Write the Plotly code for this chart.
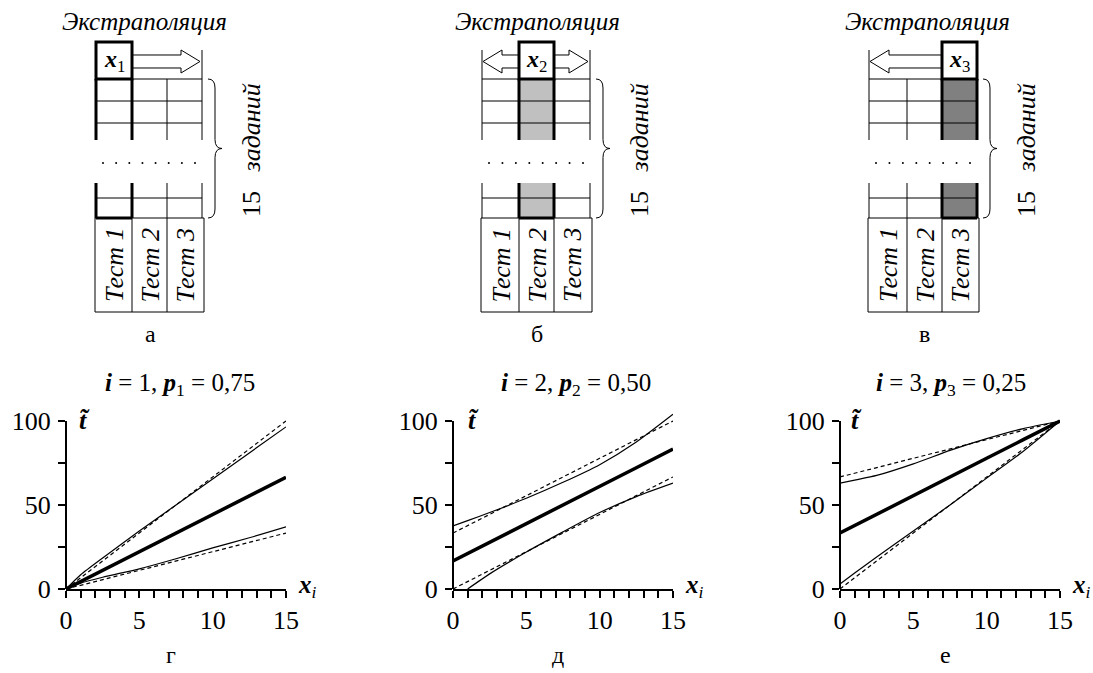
import plotly.graph_objects as go

W, H = 1093, 673
FONT = "Liberation Serif"

# ---------------- data ----------------
X_PTS = [0, 1, 2.5, 5, 7.5, 10, 12.5, 15]

# panel г : i = 1, p1 = 0.75
mid1 = [0, 4.4, 11.1, 22.2, 33.3, 44.4, 55.5, 66.5]
up_solid1 = [0, 8.5, 18.5, 34.5, 50, 65.5, 81, 96.5]
up_dash1 = [0, 6.7, 16.7, 33.3, 50, 66.7, 83.3, 100]
lo_solid1 = [0, 3.5, 7, 12, 18, 24.5, 30.5, 37]
lo_dash1 = [0, 2.2, 5.6, 11.1, 16.7, 22.2, 27.8, 33.3]

# panel д : i = 2, p2 = 0.50
mid2 = [16.7, 21.1, 27.8, 38.9, 50, 61.1, 72.2, 83.3]
up_solid2 = [37.5, 40.7, 45.5, 54, 63.5, 74, 87.5, 104]
up_dash2 = [33.3, 37.8, 44.4, 55.6, 66.7, 77.8, 88.9, 100]
lo_dash2 = [0, 4.4, 11.1, 22.2, 33.3, 44.4, 55.6, 66.7]
lo_solid2_x = [1, 2.5, 5, 7.5, 10, 12.5, 15]
lo_solid2 = [0, 9, 22, 34, 45.5, 55, 63]

# panel е : i = 3, p3 = 0.25
mid3 = [33.3, 37.8, 44.4, 55.6, 66.7, 77.8, 88.9, 100]
up_solid3 = [63, 64.8, 67.6, 74.5, 82.5, 89.5, 95.5, 100]
up_dash3 = [66.7, 68.9, 72.2, 77.8, 83.3, 88.9, 94.4, 100]
lo_solid3 = [3, 9.5, 19, 34.5, 50, 66, 82, 100]
lo_dash3 = [0, 6.7, 16.7, 33.3, 50, 66.7, 83.3, 100]

X_TICKS = list(range(16))
X_TICKTEXT = ["0", "", "", "", "", "5", "", "", "", "", "10", "", "", "", "", "15"]
Y_TICKS = [0, 25, 50, 75, 100]
Y_TICKTEXT = ["0", "", "50", "", "100"]

TITLES = [
    "<b><i>i</i></b> = 1, <b><i>p</i></b><sub>1</sub> = 0,75",
    "<b><i>i</i></b> = 2, <b><i>p</i></b><sub>2</sub> = 0,50",
    "<b><i>i</i></b> = 3, <b><i>p</i></b><sub>3</sub> = 0,25",
]
BOTTOM_LETTERS = ["г", "д", "е"]
TOP_LETTERS = ["а", "б", "в"]
TEST_LABELS = ["Тест 1", "Тест 2", "Тест 3"]
BOX_LABELS = ["<b><i>x</i></b><sub>1</sub>", "<b><i>x</i></b><sub>2</sub>", "<b><i>x</i></b><sub>3</sub>"]
EXTRAP = "Экстраполяция"
TASKS = "15\u2002 <i>заданий</i>"
T_LABEL = "<b><i>t\u0303</i></b>"
X_LABEL = "<b><i>x</i></b><sub><i>i</i></sub>"

PANELS = [
    dict(x=X_PTS, mid=mid1, us=up_solid1, ud=up_dash1, lsx=X_PTS, ls=lo_solid1, ld=lo_dash1),
    dict(x=X_PTS, mid=mid2, us=up_solid2, ud=up_dash2, lsx=lo_solid2_x, ls=lo_solid2, ld=lo_dash2),
    dict(x=X_PTS, mid=mid3, us=up_solid3, ud=up_dash3, lsx=X_PTS, ls=lo_solid3, ld=lo_dash3),
]

# ---------------- layout helpers ----------------
def px(x):
    return x / W

def py(y):
    return 1 - y / H

fig = go.Figure()
layout = dict(
    width=W, height=H, autosize=False,
    margin=dict(l=0, r=0, t=0, b=0, autoexpand=False),
    paper_bgcolor="white", plot_bgcolor="rgba(0,0,0,0)",
    showlegend=False,
    font=dict(family=FONT, color="black", size=22),
)

AX_LEFT = [66, 453, 840]
AX_W = 220
Y0_PX, Y100_PX = 589, 421
unit = (Y0_PX - Y100_PX) / 100.0
Y_TOP = 106
yb = py(Y0_PX)
yt_data = py(Y0_PX - Y_TOP * unit)
TICK_FONT = dict(family=FONT, size=26, color="black")

annotations = []
shapes = []

for k in range(3):
    n = k + 1
    xa = "xaxis" if n == 1 else f"xaxis{n}"
    ya = "yaxis" if n == 1 else f"yaxis{n}"
    xid = "x" if n == 1 else f"x{n}"
    yid = "y" if n == 1 else f"y{n}"
    layout[xa] = dict(
        domain=[px(AX_LEFT[k]), px(AX_LEFT[k] + AX_W)], range=[0, 15], anchor=yid,
        showline=True, linewidth=2, linecolor="black", ticks="outside", ticklen=7,
        tickwidth=2, tickcolor="black", tickmode="array", tickvals=X_TICKS,
        ticktext=X_TICKTEXT, showgrid=False, zeroline=False, automargin=False,
        tickfont=TICK_FONT, fixedrange=True,
    )
    layout[ya] = dict(
        domain=[yb, yt_data], range=[0, Y_TOP], anchor=xid,
        showline=False, ticks="outside", ticklen=7,
        tickwidth=2, tickcolor="black", tickmode="array", tickvals=Y_TICKS,
        ticktext=Y_TICKTEXT, showgrid=False, zeroline=False, automargin=False,
        tickfont=TICK_FONT, fixedrange=True, ticklabelstandoff=2,
    )
    shapes.append(dict(type="line", xref="x domain" if n == 1 else f"x{n} domain", yref=yid,
                       x0=0, x1=0, y0=0, y1=100, line=dict(color="black", width=2)))

    p = PANELS[k]
    common = dict(mode="lines", xaxis=xid, yaxis=yid, hoverinfo="skip")
    fig.add_trace(go.Scatter(x=p["x"], y=p["ud"], line=dict(color="black", width=1.2, dash="4px,3px"), **common))
    fig.add_trace(go.Scatter(x=p["x"], y=p["ld"], line=dict(color="black", width=1.2, dash="4px,3px"), **common))
    fig.add_trace(go.Scatter(x=p["x"], y=p["us"], line=dict(color="black", width=1.2, shape="spline", smoothing=0.6), **common))
    fig.add_trace(go.Scatter(x=p["lsx"], y=p["ls"], line=dict(color="black", width=1.2, shape="spline", smoothing=0.6), **common))
    fig.add_trace(go.Scatter(x=p["x"], y=p["mid"], line=dict(color="black", width=3.5), **common))

TITLE_X = [180, 576, 951]
T_X = [84, 473, 856]
for k in range(3):
    annotations.append(dict(x=px(TITLE_X[k]), y=py(384), xref="paper", yref="paper",
                            text=TITLES[k], showarrow=False, xanchor="center", yanchor="middle",
                            font=dict(size=25)))
    annotations.append(dict(x=px(T_X[k]), y=py(420), xref="paper", yref="paper",
                            text=T_LABEL, showarrow=False, xanchor="center", yanchor="middle",
                            font=dict(size=26)))
    annotations.append(dict(x=px(AX_LEFT[k] + AX_W + 10), y=py(586), xref="paper", yref="paper",
                            text=X_LABEL, showarrow=False,
                            xanchor="left", yanchor="middle", font=dict(size=25)))
    annotations.append(dict(x=px(AX_LEFT[k] + 105), y=py(655), xref="paper", yref="paper",
                            text=BOTTOM_LETTERS[k], showarrow=False, xanchor="center", yanchor="middle",
                            font=dict(size=24)))

# ---------------- top diagrams ----------------
DIAGRAMS = [
    dict(cols=[96, 132, 167, 202], hi=0, fill="white", left=False, right=True, extrap_x=144),
    dict(cols=[482, 519, 554, 590], hi=1, fill="#c0c0c0", left=True, right=True, extrap_x=537),
    dict(cols=[869, 907, 942, 977], hi=2, fill="#808080", left=True, right=False, extrap_x=927),
]
TOP_Y, BOX_TOP = 79, 42
SEG1 = (79, 140)
SEG2 = (183, 218)
ROWS = [79, 101, 123, 198]
TEST_BOTTOM = 312
CY = 61.5


def line(x0, y0, x1, y1, w=1, color="black"):
    shapes.append(dict(type="line", xref="paper", yref="paper", x0=px(x0), y0=py(y0),
                       x1=px(x1), y1=py(y1), line=dict(color=color, width=w)))


def rect(x0, y0, x1, y1, w=1, fill=None, color="black"):
    d = dict(type="rect", xref="paper", yref="paper", x0=px(x0), y0=py(y0),
             x1=px(x1), y1=py(y1), line=dict(color=color, width=w))
    if fill:
        d["fillcolor"] = fill
    shapes.append(d)


def path(points, closed=True, w=1, fill=None):
    s = "M " + " L ".join(f"{px(x):.5f},{py(y):.5f}" for x, y in points)
    if closed:
        s += " Z"
    d = dict(type="path", xref="paper", yref="paper", path=s, line=dict(color="black", width=w))
    if fill:
        d["fillcolor"] = fill
    shapes.append(d)


def arrow(start, tip):
    sgn = 1 if tip > start else -1
    base = tip - sgn * 19
    pts = [(start, CY - 6.5), (base, CY - 6.5), (base, CY - 11.5), (tip, CY),
           (base, CY + 11.5), (base, CY + 6.5), (start, CY + 6.5)]
    path(pts, closed=True, w=1, fill="white")


def brace(x0, top, bottom):
    mid = (top + bottom) / 2
    xm = x0 + 7
    s = (f"M {px(x0):.5f},{py(top):.5f} "
         f"Q {px(xm):.5f},{py(top):.5f} {px(xm):.5f},{py(top + 9):.5f} "
         f"L {px(xm):.5f},{py(mid - 9):.5f} "
         f"Q {px(xm):.5f},{py(mid):.5f} {px(x0 + 14):.5f},{py(mid):.5f} "
         f"Q {px(xm):.5f},{py(mid):.5f} {px(xm):.5f},{py(mid + 9):.5f} "
         f"L {px(xm):.5f},{py(bottom - 9):.5f} "
         f"Q {px(xm):.5f},{py(bottom):.5f} {px(x0):.5f},{py(bottom):.5f}")
    shapes.append(dict(type="path", xref="paper", yref="paper", path=s,
                       line=dict(color="black", width=1)))


for k, d in enumerate(DIAGRAMS):
    c = d["cols"]
    hi = d["hi"]
    for s0, s1 in (SEG1, SEG2):
        if d["fill"] != "white":
            rect(c[hi], s0, c[hi + 1], s1, w=0, fill=d["fill"], color="rgba(0,0,0,0)")
    for r in ROWS:
        line(c[0], r, c[3], r, w=1.2)
    for j in range(4):
        w = 3 if j in (hi, hi + 1) else 1
        for s0, s1 in (SEG1, SEG2):
            line(c[j], s0, c[j], s1, w=w)
    if d["right"]:
        line(c[3], 50, c[3], TOP_Y, w=1)
    if d["left"]:
        line(c[0], 50, c[0], TOP_Y, w=1)
    if d["right"]:
        arrow(c[hi + 1], c[3] - 2)
    if d["left"]:
        arrow(c[hi], c[0] + 1)
    rect(c[hi], BOX_TOP, c[hi + 1], TOP_Y, w=3, fill="white")
    annotations.append(dict(x=px((c[hi] + c[hi + 1]) / 2), y=py(61), xref="paper", yref="paper",
                            text=BOX_LABELS[k], showarrow=False, xanchor="center", yanchor="middle",
                            font=dict(size=24)))
    rect(c[0] - 1, SEG2[1], c[3] + 2, TEST_BOTTOM, w=1)
    line(c[1], SEG2[1], c[1], TEST_BOTTOM, w=1)
    line(c[2], SEG2[1], c[2], TEST_BOTTOM, w=1)
    line(c[hi], SEG2[1], c[hi + 1], SEG2[1], w=3)
    for j in range(3):
        annotations.append(dict(x=px((c[j] + c[j + 1]) / 2 + 1), y=py(265),
                                xref="paper", yref="paper", text=f"<i>{TEST_LABELS[j]}</i>",
                                showarrow=False, textangle=-90, xanchor="center", yanchor="middle",
                                font=dict(size=26)))
    n_dots = 8
    x_a, x_b = c[0] + 7, c[3] - 7
    for i in range(n_dots):
        xx = x_a + (x_b - x_a) * i / (n_dots - 1)
        shapes.append(dict(type="circle", xref="paper", yref="paper",
                           x0=px(xx - 1), x1=px(xx + 1), y0=py(162), y1=py(164),
                           fillcolor="black", line=dict(width=0)))
    brace(c[3] + 6, TOP_Y, SEG2[1])
    annotations.append(dict(x=px(c[3] + 49), y=py(150), xref="paper", yref="paper",
                            text=TASKS, showarrow=False, textangle=-90, xanchor="center",
                            yanchor="middle", font=dict(size=26)))
    annotations.append(dict(x=px(d["extrap_x"]), y=py(22), xref="paper", yref="paper",
                            text=f"<i>{EXTRAP}</i>", showarrow=False, xanchor="center",
                            yanchor="middle", font=dict(size=25)))
    annotations.append(dict(x=px((c[0] + c[3]) / 2 + 1), y=py(334), xref="paper", yref="paper",
                            text=TOP_LETTERS[k], showarrow=False, xanchor="center",
                            yanchor="middle", font=dict(size=24)))

layout["annotations"] = annotations
layout["shapes"] = shapes
fig.update_layout(**layout)
fig.write_html("out.html", config={"responsive": False, "displayModeBar": False},
               post_script="document.body.style.margin='0';document.body.style.padding='0';")
